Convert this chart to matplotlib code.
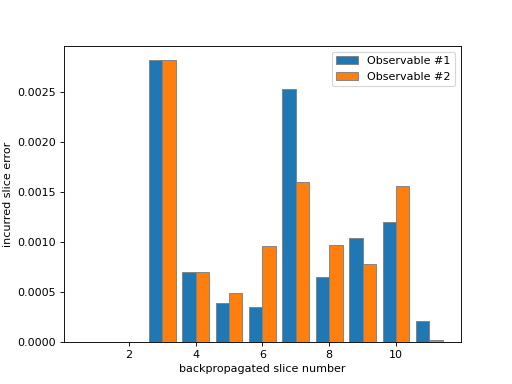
import matplotlib
matplotlib.use("Agg")
import matplotlib.pyplot as plt
import numpy as np

slices = [1, 2, 3, 4, 5, 6, 7, 8, 9, 10, 11]
obs1 = [0.0, 0.0, 0.00282, 0.000697, 0.000388, 0.000347, 0.002527, 0.000647, 0.001037, 0.0012, 0.00021]
obs2 = [0.0, 0.0, 0.00282, 0.000697, 0.00049, 0.00096, 0.0016, 0.00097, 0.00078, 0.00156, 0.00002]
labels = ["Observable #1", "Observable #2"]

fig, ax = plt.subplots(figsize=(6.4, 4.8), dpi=80)
x = np.array(slices, dtype=float)
w = 0.4
ax.bar(x - w / 2, obs1, width=w, color="#1f77b4", edgecolor="gray", linewidth=0.8, label=labels[0])
ax.bar(x + w / 2, obs2, width=w, color="#ff7f0e", edgecolor="gray", linewidth=0.8, label=labels[1])
ax.set_xlabel("backpropagated slice number")
ax.set_ylabel("incurred slice error")
ax.legend(loc="upper right")
fig.savefig("out.png", dpi=80)
